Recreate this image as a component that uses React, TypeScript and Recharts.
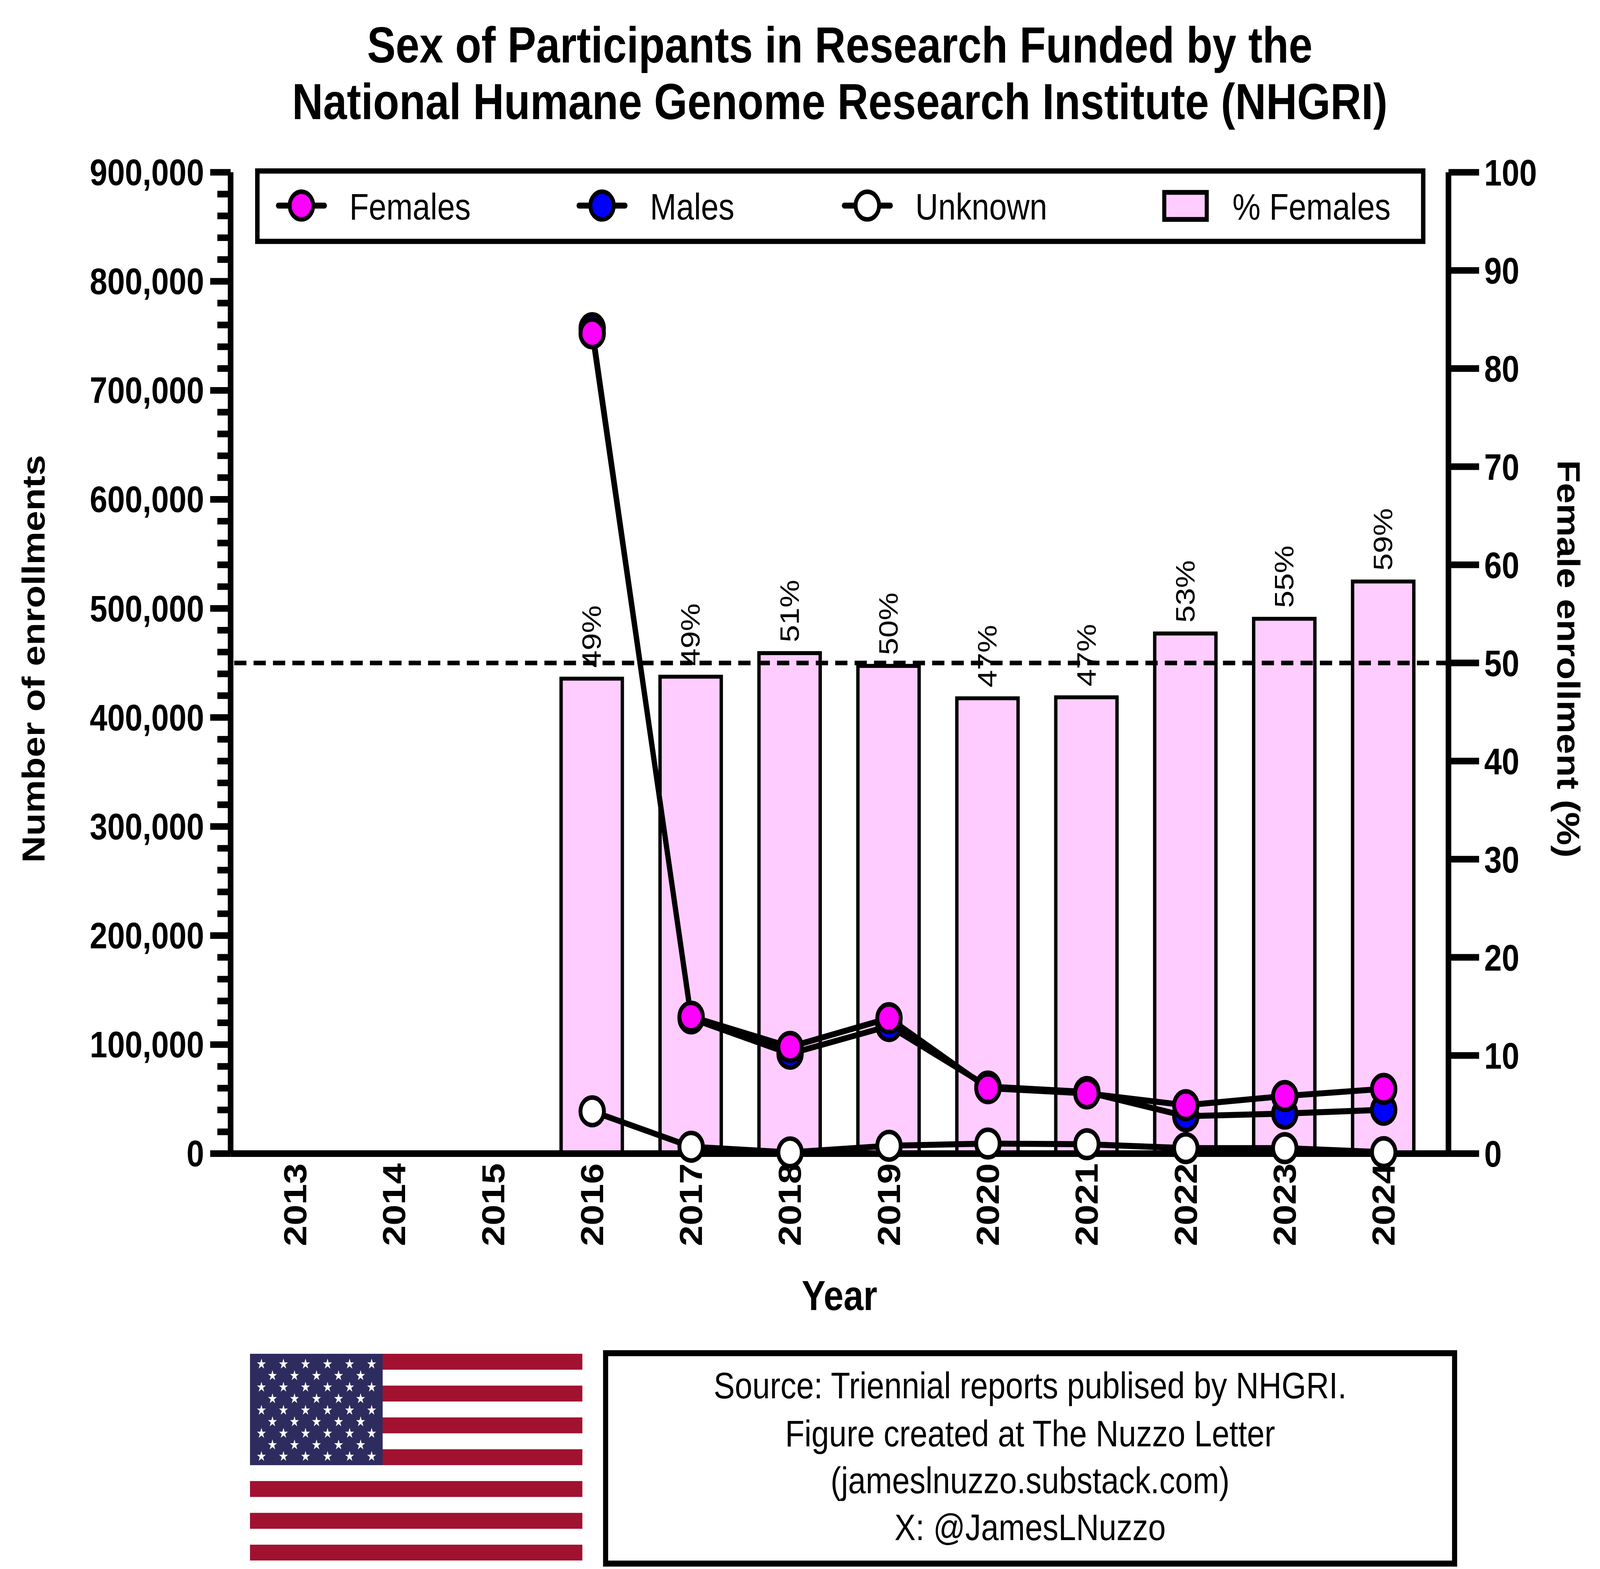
import React from "react";
import {
  ComposedChart,
  Bar,
  Line,
  XAxis,
  YAxis,
  ReferenceLine,
  Legend,
  LabelList,
  Label,
} from "recharts";

// values
const years = ["2013", "2014", "2015", "2016", "2017", "2018", "2019", "2020", "2021", "2022", "2023", "2024"];
const females = [null, null, null, 752300, 125600, 97900, 124200, 60000, 55200, 44400, 52800, 59400];
const males = [null, null, null, 757000, 124000, 91600, 117000, 61500, 56500, 34300, 36700, 40200];
const unknown = [null, null, null, 38800, 6300, 1100, 7200, 9200, 8600, 5000, 5000, 1300];
const pctFemales = [null, null, null, 48.4, 48.6, 51.0, 49.7, 46.4, 46.5, 53.0, 54.5, 58.3];
const pctLabels = ["", "", "", "49%", "49%", "51%", "50%", "47%", "47%", "53%", "55%", "59%"];
const leftTicks = Array.from({ length: 46 }, (_, i) => i * 20000);
const rightTicks = [0, 10, 20, 30, 40, 50, 60, 70, 80, 90, 100];
const legendNames = ["Females", "Males", "Unknown", "% Females"];
const sourceLines = [
  "Source: Triennial reports publised by NHGRI.",
  "Figure created at The Nuzzo Letter",
  "(jameslnuzzo.substack.com)",
  "X: @JamesLNuzzo",
];

const data = years.map((year, i) => ({
  year,
  females: females[i],
  males: males[i],
  unknown: unknown[i],
  pct: pctFemales[i],
  pctLabel: pctLabels[i],
}));

const FONT = '"Liberation Sans", Arial, Helvetica, sans-serif';
const W = 1568;
const H = 1305;
const AXIS_W = 5.5;
const LEFT_TICK = 20;
const LEFT_MARGIN = 6;

const PINK = "#FFCCFF";
const MAGENTA = "#FF00FF";
const BLUE = "#0000FF";

function LeftTick(props: any) {
  const { x, y, payload } = props;
  const axisX = x + LEFT_TICK + LEFT_MARGIN;
  const major = payload.value % 100000 === 0;
  return (
    <g>
      <line x1={axisX} x2={axisX - (major ? LEFT_TICK : 13)} y1={y} y2={y} stroke="#000" strokeWidth={AXIS_W} />
      {major && (
        <text x={x} y={y} textAnchor="end" dominantBaseline="central" fontFamily={FONT} fontWeight="bold" fontSize={31} fill="#000">
          {payload.value.toLocaleString("en-US")}
        </text>
      )}
    </g>
  );
}

function XTick(props: any) {
  const { x, y, payload } = props;
  return (
    <text
      x={x}
      y={y}
      transform={`rotate(-90, ${x}, ${y})`}
      textAnchor="end"
      dominantBaseline="central"
      fontFamily={FONT}
      fontWeight="bold"
      fontSize={31}
      fill="#000"
    >
      {payload.value}
    </text>
  );
}

function BarLabel(props: any) {
  const vb = props.viewBox || props;
  const { value } = props;
  if (!value) return null;
  const cx = vb.x + vb.width / 2;
  const y = vb.y - 9;
  return (
    <text
      x={cx}
      y={y}
      transform={`rotate(-90, ${cx}, ${y})`}
      textAnchor="start"
      dominantBaseline="central"
      fontFamily={FONT}
      fontSize={26}
      fill="#000"
    >
      {value}
    </text>
  );
}

function LegendBox() {
  const textX = [92.4, 387, 647, 957.8];
  const markerX = [45.4, 340, 600];
  const fills = [MAGENTA, BLUE, "#FFFFFF"];
  return (
    <svg width={1147} height={63} style={{ display: "block" }}>
      <rect x={2.2} y={2.2} width={1142.6} height={58.6} fill="#fff" stroke="#000" strokeWidth={4.4} />
      {markerX.map((mx, i) => (
        <g key={legendNames[i]}>
          <line x1={mx - 22.5} x2={mx + 22.5} y1={31} y2={31} stroke="#000" strokeWidth={5} strokeLinecap="round" />
          <circle cx={mx} cy={31} r={11.5} fill={fills[i]} stroke="#000" strokeWidth={3.8} />
        </g>
      ))}
      <rect x={891} y={20} width={41.6} height={22.5} fill={PINK} stroke="#000" strokeWidth={4} />
      {legendNames.map((name, i) => (
        <text key={name} x={textX[i]} y={42.5} fontFamily={FONT} fontSize={31} fill="#000">
          {name}
        </text>
      ))}
    </svg>
  );
}

function star(cx: number, cy: number, R: number) {
  const r = R * 0.382;
  const pts: string[] = [];
  for (let k = 0; k < 10; k++) {
    const a = -Math.PI / 2 + (k * Math.PI) / 5;
    const rad = k % 2 === 0 ? R : r;
    pts.push(`${cx + rad * Math.cos(a)},${cy + rad * Math.sin(a)}`);
  }
  return pts.join(" ");
}

function Flag() {
  const w = 325.7;
  const h = 172;
  const stripe = h / 13;
  const stars: { x: number; y: number }[] = [];
  for (let row = 0; row < 9; row++) {
    const n = row % 2 === 0 ? 6 : 5;
    const off = row % 2 === 0 ? 11.2 : 22;
    for (let c = 0; c < n; c++) stars.push({ x: off + c * 21.6, y: 8.6 + row * 9.6 });
  }
  return (
    <svg width={w} height={h} style={{ position: "absolute", left: 245, top: 1125.8 }}>
      <rect x={0} y={0} width={w} height={h} fill="#fff" />
      {Array.from({ length: 7 }, (_, i) => (
        <rect key={i} x={0} y={i * 2 * stripe} width={w} height={stripe} fill="#A01230" />
      ))}
      <rect x={0} y={0} width={130} height={stripe * 7} fill="#2E2B5E" />
      {stars.map((s, i) => (
        <polygon key={i} points={star(s.x, s.y, 4.6)} fill="#fff" />
      ))}
    </svg>
  );
}

export default function App() {
  // the figure is laid out on a 1568 x 1305 grid and stretched to fill the window
  const vw = typeof window !== "undefined" ? window.innerWidth : 4825;
  const vh = typeof window !== "undefined" ? window.innerHeight : 4017;
  const sx = vw / W;
  const sy = vh / H;
  return (
    <div style={{ position: "absolute", left: 0, top: 0, width: W, height: H, transform: `scale(${sx}, ${sy})`, transformOrigin: "0 0", background: "#fff", fontFamily: FONT }}>
      <style>{"html,body{margin:0;overflow:hidden;background:#fff}"}</style>
      <div
        style={{
          position: "absolute",
          left: 78,
          top: 14,
          width: 1490,
          textAlign: "center",
          fontSize: 42,
          fontWeight: "bold",
          lineHeight: "47px",
          color: "#000",
        }}
      >
        Sex of Participants in Research Funded by the
        <br />
        National Humane Genome Research Institute (NHGRI)
      </div>
      <div style={{ position: "absolute", left: 0, top: 0 }}>
        <ComposedChart width={W} height={H} data={data} margin={{ top: 143.3, right: 0, bottom: 205.5, left: 0 }}>
          <Bar yAxisId="right" dataKey="pct" name="% Females" fill={PINK} stroke="#000" strokeWidth={3.3} barSize={60} isAnimationActive={false}>
            <LabelList dataKey="pctLabel" content={BarLabel} />
          </Bar>
          <XAxis
            dataKey="year"
            height={140}
            padding={{ left: 15, right: 15 }}
            interval={0}
            tickLine={false}
            tickSize={0}
            tickMargin={8}
            tick={XTick}
            axisLine={{ stroke: "#000", strokeWidth: AXIS_W }}
          >
            <Label
              content={(p: any) => (
                <text x={p.viewBox.x + p.viewBox.width / 2} y={p.viewBox.y + 130} textAnchor="middle" fontFamily={FONT} fontWeight="bold" fontSize={35} fill="#000">
                  Year
                </text>
              )}
            />
          </XAxis>
          <YAxis
            yAxisId="left"
            width={226}
            domain={[0, 900000]}
            ticks={leftTicks}
            interval={0}
            tickLine={false}
            tickSize={LEFT_TICK}
            tickMargin={LEFT_MARGIN}
            tick={LeftTick}
            axisLine={{ stroke: "#000", strokeWidth: AXIS_W }}
          >
            <Label
              content={() => (
                <text transform="translate(33,548) rotate(-90)" textAnchor="middle" dominantBaseline="central" fontFamily={FONT} fontWeight="bold" fontSize={31} fill="#000">
                  Number of enrollments
                </text>
              )}
            />
          </YAxis>
          <YAxis
            yAxisId="right"
            orientation="right"
            width={148.5}
            domain={[0, 100]}
            ticks={rightTicks}
            interval={0}
            tickSize={30}
            tickMargin={5}
            tickLine={{ stroke: "#000", strokeWidth: AXIS_W }}
            tick={{ fontFamily: FONT, fontWeight: "bold", fontSize: 31, fill: "#000" }}
            axisLine={{ stroke: "#000", strokeWidth: AXIS_W }}
          >
            <Label
              content={() => (
                <text transform="translate(1537,548) rotate(90)" textAnchor="middle" dominantBaseline="central" fontFamily={FONT} fontWeight="bold" fontSize={31} fill="#000">
                  Female enrollment (%)
                </text>
              )}
            />
          </YAxis>
          <ReferenceLine yAxisId="right" y={50} stroke="#000" strokeWidth={3.8} strokeDasharray="12 7" />
          <Line
            yAxisId="left"
            dataKey="unknown"
            name="Unknown"
            stroke="#000"
            strokeWidth={5}
            strokeLinejoin="round"
            dot={{ r: 11.5, fill: "#FFFFFF", stroke: "#000", strokeWidth: 3.8 }}
            activeDot={false}
            isAnimationActive={false}
          />
          <Line
            yAxisId="left"
            dataKey="males"
            name="Males"
            stroke="#000"
            strokeWidth={5}
            strokeLinejoin="round"
            dot={{ r: 11.5, fill: BLUE, stroke: "#000", strokeWidth: 3.8 }}
            activeDot={false}
            isAnimationActive={false}
          />
          <Line
            yAxisId="left"
            dataKey="females"
            name="Females"
            stroke="#000"
            strokeWidth={5}
            strokeLinejoin="round"
            dot={{ r: 11.5, fill: MAGENTA, stroke: "#000", strokeWidth: 3.8 }}
            activeDot={false}
            isAnimationActive={false}
          />
          <Legend
            layout="vertical"
            align="center"
            verticalAlign="middle"
            wrapperStyle={{ left: 250, top: 140, width: 1147, height: 63 }}
            content={() => <LegendBox />}
          />
        </ComposedChart>
      </div>
      <Flag />
      <div
        style={{
          position: "absolute",
          left: 591,
          top: 1123,
          width: 837,
          height: 180,
          boxSizing: "border-box",
          border: "5.5px solid #000",
          paddingTop: 5.4,
          textAlign: "center",
          fontSize: 31,
          lineHeight: "39.3px",
          color: "#000",
          background: "#fff",
        }}
      >
        {sourceLines.map((line) => (
          <div key={line}>{line}</div>
        ))}
      </div>
    </div>
  );
}
